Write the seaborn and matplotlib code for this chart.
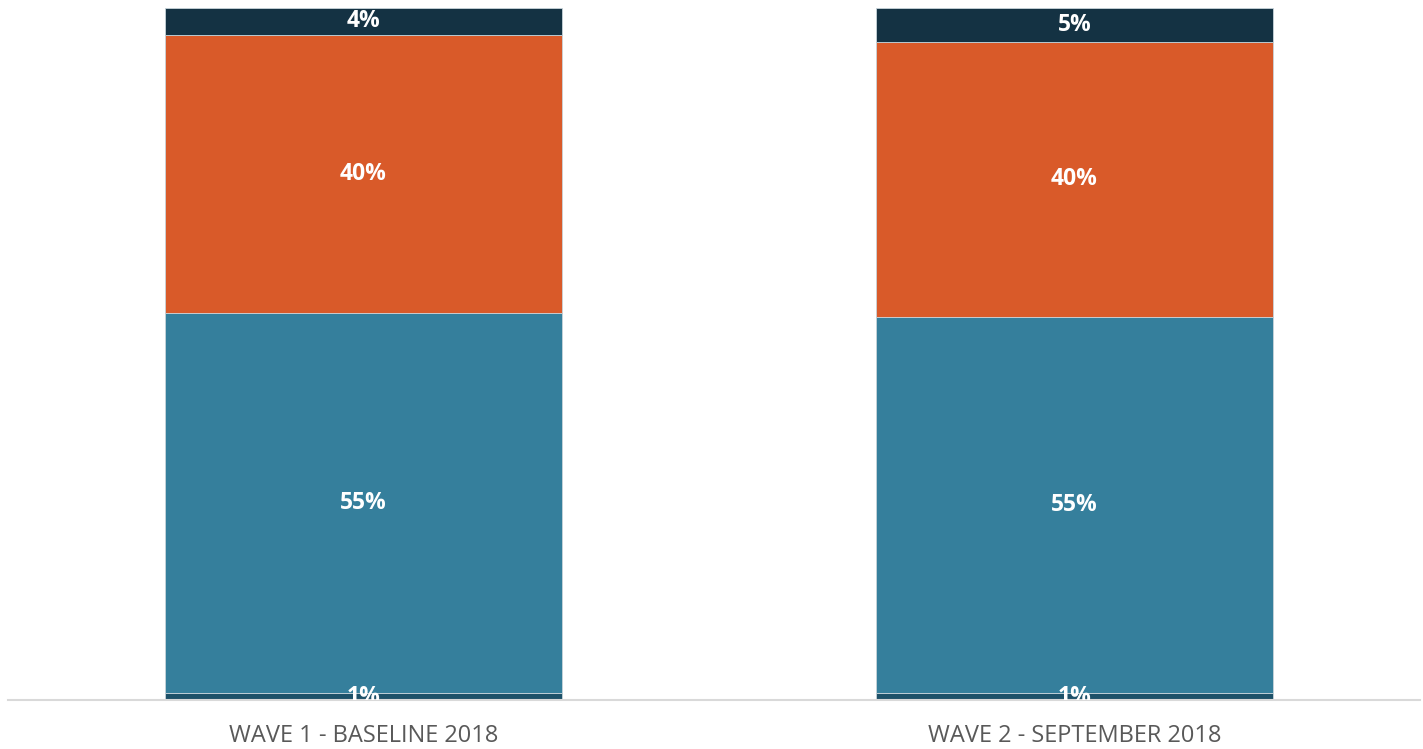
import matplotlib.pyplot as plt
import seaborn as sns
import pandas as pd
import numpy as np

# Data (shares of each wave, stacked bottom to top)
waves = ['WAVE 1 - BASELINE 2018', 'WAVE 2 - SEPTEMBER 2018']
seg_bottom = [1.0, 1.0]
seg_teal = [54.9, 54.4]
seg_orange = [40.2, 39.7]
seg_top = [3.9, 4.9]
seg_labels = [['1%', '55%', '40%', '4%'],
              ['1%', '55%', '40%', '5%']]
colors = ['#1d5169', '#357f9c', '#d95a29', '#143243']

sns.set_style('white')
plt.rcParams['font.family'] = ['Open Sans', 'DejaVu Sans']

df = pd.DataFrame({'wave': waves, 's1': seg_bottom, 's2': seg_teal,
                   's3': seg_orange, 's4': seg_top})
segs = ['s1', 's2', 's3', 's4']

fig = plt.figure(figsize=(14.23, 7.49), dpi=100)
ax = fig.add_axes([8 / 1423, 1 - 700 / 749, 1412 / 1423, 692 / 749])

base = np.zeros(len(df))
for i, s in enumerate(segs):
    sns.barplot(data=df, x='wave', y=s, color=colors[i], width=0.558,
                bottom=base, ax=ax, edgecolor='#c8d4da', linewidth=0.6,
                saturation=1)
    mids = base + df[s].values / 2
    for j in range(len(df)):
        ax.text(j, mids[j], seg_labels[j][i], ha='center', va='center',
                color='white', fontsize=16.5, fontweight='bold', clip_on=True)
    base = base + df[s].values

ax.set_xlim(-0.5, 1.486)
ax.set_ylim(0, 100)
ax.set_xlabel('')
ax.set_ylabel('')
ax.set_yticks([])
sns.despine(ax=ax, left=True, top=True, right=True)
ax.spines['bottom'].set_color('#d9d9d9')
ax.spines['bottom'].set_linewidth(1.5)
ax.tick_params(axis='x', length=0, pad=17, labelsize=17, labelcolor='#595959')

fig.savefig('out.png', dpi=100)
